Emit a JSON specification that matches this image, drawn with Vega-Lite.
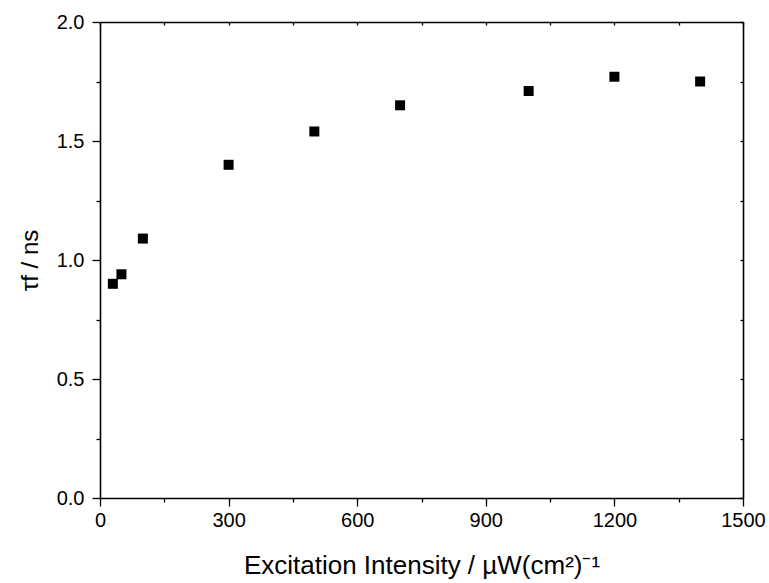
{
  "$schema": "https://vega.github.io/schema/vega-lite/v6.json",
  "width": 643,
  "height": 476,
  "autosize": "none",
  "padding": {"left": 100, "top": 22, "right": 26, "bottom": 85},
  "background": "white",
  "config": {
    "view": {"stroke": null},
    "axis": {
      "labelFont": "Liberation Sans",
      "titleFont": "Liberation Sans",
      "labelFontSize": 20,
      "titleFontSize": 24,
      "titleFontWeight": "normal",
      "labelColor": "black",
      "titleColor": "black",
      "domainColor": "black",
      "tickColor": "black",
      "domainWidth": 1.6,
      "tickWidth": 1.3,
      "grid": false
    }
  },
  "data": {
    "values": [
      {"intensity": 30, "tau": 0.90},
      {"intensity": 50, "tau": 0.94},
      {"intensity": 100, "tau": 1.09},
      {"intensity": 300, "tau": 1.40},
      {"intensity": 500, "tau": 1.54},
      {"intensity": 700, "tau": 1.65},
      {"intensity": 1000, "tau": 1.71},
      {"intensity": 1200, "tau": 1.77},
      {"intensity": 1400, "tau": 1.75}
    ]
  },
  "resolve": {"axis": {"x": "independent", "y": "independent"}},
  "layer": [
    {
      "mark": {"type": "square", "color": "black", "size": 100, "opacity": 1, "filled": true},
      "encoding": {
        "x": {
          "field": "intensity", "type": "quantitative",
          "scale": {"domain": [0, 1500], "nice": false, "zero": false},
          "axis": {
            "title": "Excitation Intensity / µW(cm²)⁻¹",
            "titleFontSize": 26,
            "values": [0, 150, 300, 450, 600, 750, 900, 1050, 1200, 1350, 1500],
            "labelExpr": "datum.value % 300 === 0 ? datum.label : ''",
            "format": "d",
            "tickSize": {"condition": {"test": "datum.value % 300 === 0", "value": 8}, "value": 4},
            "labelPadding": 4,
            "titlePadding": 22,
            "labelFlush": false
          }
        },
        "y": {
          "field": "tau", "type": "quantitative",
          "scale": {"domain": [0, 2], "nice": false, "zero": false},
          "axis": {
            "title": "τf / ns",
            "values": [0, 0.25, 0.5, 0.75, 1.0, 1.25, 1.5, 1.75, 2.0],
            "labelExpr": "abs(datum.value*2 - round(datum.value*2)) < 0.001 ? format(datum.value, '.1f') : ''",
            "tickSize": {"condition": {"test": "abs(datum.value*2 - round(datum.value*2)) < 0.001", "value": 8}, "value": 4},
            "labelPadding": 8,
            "titlePadding": 14,
            "labelFlush": false
          }
        }
      }
    },
    {
      "mark": {"type": "point", "opacity": 0},
      "encoding": {
        "x": {
          "field": "intensity", "type": "quantitative",
          "axis": {
            "orient": "top", "title": null, "labels": false,
            "values": [0, 150, 300, 450, 600, 750, 900, 1050, 1200, 1350, 1500],
            "tickSize": -3
          }
        },
        "y": {
          "field": "tau", "type": "quantitative",
          "axis": {
            "orient": "right", "title": null, "labels": false,
            "values": [0, 0.25, 0.5, 0.75, 1.0, 1.25, 1.5, 1.75, 2.0],
            "tickSize": -3
          }
        }
      }
    }
  ]
}
